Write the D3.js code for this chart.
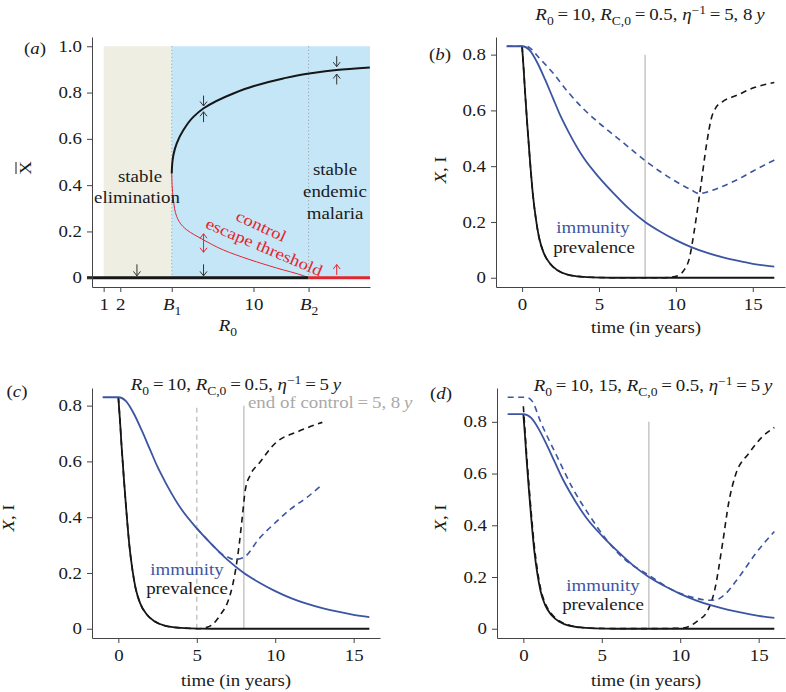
<!DOCTYPE html>
<html><head><meta charset="utf-8">
<script src="https://cdn.jsdelivr.net/npm/d3@7"></script>
<style>body{margin:0;background:#fff}svg{display:block}</style>
</head><body>
<script>
// ---------------- DATA ----------------
// Panel (a): bifurcation diagram
const B1 = 5.09, B2 = 13.31;
const r0TickVals = [1, 2, B1, 10, B2];
const r0TickLabels = ["1", "2", "B1", "10", "B2"];
const aYTicks = [0, 0.2, 0.4, 0.6, 0.8, 1.0];
const upperR0 = [5.09, 5.13, 5.19, 5.39, 5.79, 6.39, 6.99, 8.79, 10.03, 11.79, 13.35, 14.99, 16.99];
const upperX  = [0.45, 0.5, 0.53, 0.58, 0.638, 0.695, 0.731, 0.796, 0.828, 0.861, 0.882, 0.897, 0.908];
const lowerR0 = [13.31, 12.99, 11.39, 9.79, 8.19, 6.99, 5.99, 5.39, 5.19, 5.11, 5.09];
const lowerX  = [0, 0.009, 0.042, 0.078, 0.12, 0.164, 0.207, 0.264, 0.336, 0.4, 0.45];
const zeroBlackR0 = [0, B2];
const zeroRedR0 = [B2, 17];
const arrowR0   = [3, 7, 7, 7, 15, 15, 7, 15];
const arrowFrom = [0.058, 0.058, 0.787, 0.672, 0.957, 0.835, 0.11, 0.012];
const arrowTo   = [0.008, 0.008, 0.742, 0.717, 0.912, 0.88, 0.19, 0.057];
const arrowKind = ["k", "k", "k", "k", "k", "k", "r2", "r"];

// Panels (b)-(d): time courses
const timeTicks = [0, 5, 10, 15];
const xiTicks = [0, 0.2, 0.4, 0.6, 0.8];

// (b)
const bPrevT = [0, 0.1, 0.2, 0.35, 0.5, 0.7, 0.9, 1.1, 1.4, 1.8, 2.3, 2.9, 3.6, 4.5, 6, 8, 10, 12, 14, 16.4];
const bPrevX = [0.83, 0.75, 0.66, 0.54, 0.43, 0.3, 0.21, 0.145, 0.09, 0.052, 0.027, 0.012, 0.005, 0.0015, 0, 0, 0, 0, 0, 0];
const bImmT = [-1, 0, 0.5, 1, 1.5, 2, 2.5, 3, 4, 5, 6, 7, 8, 9, 10, 11, 12, 13, 14, 15, 16.4];
const bImmX = [0.83, 0.83, 0.815, 0.77, 0.71, 0.645, 0.58, 0.525, 0.43, 0.36, 0.3, 0.245, 0.2, 0.165, 0.135, 0.11, 0.09, 0.074, 0.061, 0.05, 0.04];
const bImmDashT = [-1, 0, 0.3, 0.6, 1, 2, 3, 4, 5, 6, 7, 8, 9, 10, 11, 11.5, 12, 13, 14, 15, 16.4];
const bImmDashX = [0.83, 0.83, 0.83, 0.82, 0.795, 0.735, 0.665, 0.605, 0.555, 0.51, 0.465, 0.42, 0.38, 0.345, 0.315, 0.302, 0.307, 0.327, 0.352, 0.382, 0.422];
const bPrevDashT = [0, 0.1, 0.2, 0.35, 0.5, 0.7, 0.9, 1.1, 1.4, 1.8, 2.3, 2.9, 3.6, 4.5, 6, 8, 9, 9.5, 10, 10.5, 10.9, 11.2, 11.6, 12.0, 12.3, 12.6, 13, 14, 15, 16.4];
const bPrevDashX = [0.83, 0.75, 0.66, 0.54, 0.43, 0.3, 0.21, 0.145, 0.09, 0.052, 0.027, 0.012, 0.005, 0.0015, 0, 0, 0, 0.001, 0.005, 0.025, 0.075, 0.17, 0.32, 0.48, 0.57, 0.61, 0.63, 0.655, 0.68, 0.70];
const bControlEnd = [8];

// (c) and (d) share the solid (controlled) curves
const cdPrevT = [0, 0.1, 0.2, 0.35, 0.5, 0.7, 0.9, 1.1, 1.4, 1.8, 2.3, 2.9, 3.6, 4.5, 6, 8, 10, 12, 14, 16];
const cdPrevX = [0.83, 0.75, 0.66, 0.54, 0.43, 0.3, 0.21, 0.145, 0.09, 0.052, 0.027, 0.012, 0.005, 0.0015, 0, 0, 0, 0, 0, 0];
const cdImmT = [-1, 0, 0.5, 1, 1.5, 2, 2.5, 3, 4, 5, 6, 7, 8, 9, 10, 11, 12, 13, 14, 15, 16];
const cdImmX = [0.83, 0.83, 0.815, 0.77, 0.71, 0.645, 0.58, 0.525, 0.43, 0.36, 0.3, 0.245, 0.2, 0.165, 0.135, 0.11, 0.09, 0.074, 0.061, 0.05, 0.042];

// (c)
const cImmDashT = [5, 6, 6.5, 7, 7.4, 8, 9, 10, 11, 12, 13];
const cImmDashX = [0.36, 0.3, 0.272, 0.256, 0.248, 0.256, 0.325, 0.38, 0.43, 0.47, 0.517];
const cPrevDashT = [0, 0.1, 0.2, 0.35, 0.5, 0.7, 0.9, 1.1, 1.4, 1.8, 2.3, 2.9, 3.6, 4.5, 5, 5.5, 6, 6.5, 7, 7.3, 7.5, 7.7, 7.9, 8.1, 8.4, 9, 10, 11.5, 13];
const cPrevDashX = [0.83, 0.75, 0.66, 0.54, 0.43, 0.3, 0.21, 0.145, 0.09, 0.052, 0.027, 0.012, 0.005, 0.0015, 0, 0.003, 0.015, 0.05, 0.1, 0.16, 0.22, 0.3, 0.4, 0.5, 0.55, 0.595, 0.665, 0.708, 0.74];
const cControlEnd = [5, 8];

// (d)
const dImmDashT = [-1, 0, 0.3, 0.57, 1.1, 2.15, 3.2, 4.26, 5.3, 6.37, 7.95, 9.5, 11, 11.86, 12.3, 12.7, 13.75, 14.8, 16];
const dImmDashX = [0.895, 0.895, 0.893, 0.879, 0.8, 0.666, 0.537, 0.434, 0.344, 0.273, 0.209, 0.15, 0.118, 0.11, 0.112, 0.125, 0.2, 0.29, 0.376];
const dPrevDashT = [0, 0.1, 0.2, 0.35, 0.5, 0.7, 0.9, 1.1, 1.4, 1.8, 2.3, 2.9, 3.6, 4.5, 6, 8, 10, 10.6, 11.2, 11.65, 12.2, 12.7, 13.1, 13.5, 14.4, 15.2, 16];
const dPrevDashX = [0.86, 0.77, 0.68, 0.56, 0.45, 0.32, 0.225, 0.155, 0.097, 0.057, 0.03, 0.014, 0.006, 0.002, 0.0005, 0.0005, 0.002, 0.01, 0.035, 0.06, 0.15, 0.33, 0.49, 0.59, 0.68, 0.74, 0.778];
const dControlEnd = [8];
const controlTop = 0.8;

// ---------------- DRAWING ----------------
const W = 786, H = 692;
const FONT = '"Liberation Serif","Times New Roman",serif';
const FS = 16, SX = 1.18;
const BLUE = '#3b55a2', BLACK = '#161616', RED = '#e3262d', GREY = '#c6c6c6';
const DASH = '6,4.5';

const svg = d3.select('body').append('svg').attr('width', W).attr('height', H);

function rich(g, x, y, parts, o = {}) {
  const size = o.size || FS;
  const t = g.append('text')
    .attr('transform', `translate(${x},${y}) rotate(${o.rotate || 0}) scale(${SX},1)`)
    .attr('text-anchor', o.anchor || 'middle')
    .attr('fill', o.fill || '#1a1a1a')
    .style('font-family', FONT).style('font-size', size + 'px');
  let shift = 0;
  parts.forEach(p => {
    if (typeof p === 'string') p = {t: p};
    const s = t.append('tspan').text(p.t);
    const target = p.sub ? size * 0.3 : p.sup ? -size * 0.38 : 0;
    if (target !== shift) { s.attr('dy', target - shift); shift = target; }
    if (p.sub || p.sup) s.style('font-size', (size * 0.72) + 'px');
    if (p.i) s.style('font-style', 'italic');
  });
  return t;
}

function padded(lo, hi) { const e = (hi - lo) * 0.04; return [lo - e, hi + e]; }

function axes(g, x, y, xt, yt, xfmt, yfmt) {
  const ax = g.append('g').attr('transform', `translate(0,${y.range()[0]})`)
    .call(d3.axisBottom(x).tickValues(xt).tickSize(5).tickSizeOuter(0).tickPadding(7).tickFormat(xfmt));
  const ay = g.append('g').attr('transform', `translate(${x.range()[0]},0)`)
    .call(d3.axisLeft(y).tickValues(yt).tickSize(5).tickSizeOuter(0).tickPadding(5).tickFormat(yfmt));
  [ax, ay].forEach(a => {
    a.selectAll('path,line').attr('stroke', '#444').attr('stroke-width', 1);
    a.selectAll('text').style('font-family', FONT).style('font-size', FS + 'px').attr('fill', '#1a1a1a');
  });
  ay.selectAll('text').attr('x', -10 / SX).attr('transform', `scale(${SX},1)`);
  ax.selectAll('text').attr('transform', `scale(${SX},1)`);
  return {ax, ay};
}

const yFmt = d => d === 0 ? '0' : d.toFixed(1);

// ===== Panel (a) =====
const gA = svg.append('g');
const xA = d3.scaleLinear().domain([0.3, 17]).range([92, 370]);
const yA = d3.scaleLinear().domain(padded(0, 1)).range([287, 37]);

gA.append('rect').attr('x', xA(1)).attr('y', yA(1)).attr('width', xA(B1) - xA(1)).attr('height', yA(0) - yA(1)).attr('fill', '#eeeee3');
gA.append('rect').attr('x', xA(B1)).attr('y', yA(1)).attr('width', xA(17) - xA(B1)).attr('height', yA(0) - yA(1)).attr('fill', '#c4e6f7');
[B1, B2].forEach(b => gA.append('line').attr('x1', xA(b)).attr('x2', xA(b)).attr('y1', yA(1)).attr('y2', yA(0))
  .attr('stroke', '#999').attr('stroke-width', 1).attr('stroke-dasharray', '1,2.5'));

const lowerPts = lowerR0.map((r, i) => [r, lowerX[i]]);
const upperPts = upperR0.map((r, i) => [r, upperX[i]]);
const lineA = d3.line().x(d => xA(d[0])).y(d => yA(d[1])).curve(d3.curveMonotoneY);
gA.append('path').attr('d', lineA(lowerPts)).attr('fill', 'none').attr('stroke', RED).attr('stroke-width', 1);
gA.append('path').attr('d', lineA(upperPts)).attr('fill', 'none').attr('stroke', BLACK).attr('stroke-width', 2);
gA.append('line').attr('x1', xA(zeroBlackR0[0])).attr('x2', xA(zeroBlackR0[1])).attr('y1', yA(0)).attr('y2', yA(0)).attr('stroke', BLACK).attr('stroke-width', 3);
gA.append('line').attr('x1', xA(zeroRedR0[0])).attr('x2', xA(zeroRedR0[1])).attr('y1', yA(0)).attr('y2', yA(0)).attr('stroke', RED).attr('stroke-width', 3);

arrowR0.forEach((r, i) => {
  const x = xA(r), y1 = yA(arrowFrom[i]), y2 = yA(arrowTo[i]);
  const col = arrowKind[i] === 'k' ? '#333' : RED;
  const g = gA.append('g').attr('stroke', col).attr('stroke-width', 1).attr('fill', 'none');
  g.append('line').attr('x1', x).attr('x2', x).attr('y1', y1).attr('y2', y2);
  const head = (ty, dir) => g.append('path').attr('d', `M${x - 3.5},${ty + dir * 4.5}L${x},${ty}L${x + 3.5},${ty + dir * 4.5}`);
  const dir = Math.sign(y1 - y2);
  head(y2, dir);
  if (arrowKind[i] === 'r2') head(y1, -dir);
});

rich(gA, 140, 182, ['stable']);
rich(gA, 137, 203, ['elimination']);
rich(gA, 335, 175, ['stable']);
rich(gA, 335, 197, ['endemic']);
rich(gA, 335, 219, ['malaria']);
rich(gA, 259, 231, ['control'], {fill: RED, rotate: 25});
rich(gA, 262, 252, ['escape threshold'], {fill: RED, rotate: 23});

const axA = axes(gA, xA, yA, r0TickVals, aYTicks, (d, i) => r0TickLabels[i], yFmt);
axA.ax.selectAll('text').each(function(d, i) {
  const lab = r0TickLabels[i];
  if (lab.startsWith('B')) {
    const t = d3.select(this); t.text('');
    t.append('tspan').text('B').style('font-style', 'italic');
    t.append('tspan').text(lab.slice(1)).attr('dy', 5).style('font-size', '11.5px');
  }
});
rich(gA, 35, 54, ['(', {t: 'a', i: true}, ')']);
rich(gA, 228, 331, [{t: 'R', i: true}, {t: '0', sub: true}]);
// y label: X with overbar, rotated
const yl = gA.append('g').attr('transform', 'translate(31,168) rotate(-90)');
rich(yl, 0, 0, ['X']);
yl.append('line').attr('x1', -6).attr('x2', 6).attr('y1', -15).attr('y2', -15).attr('stroke', '#1a1a1a').attr('stroke-width', 1);

// ===== time panels =====
function timePanel(g, x, y, solidPrev, solidImm, dashPrev, dashImm, ends) {
  const ln = d3.line().x(d => x(d[0])).y(d => y(d[1])).curve(d3.curveMonotoneX);
  ends.forEach(e => g.append('line').attr('x1', x(e.t)).attr('x2', x(e.t)).attr('y1', y(0)).attr('y2', y(controlTop))
    .attr('stroke', GREY).attr('stroke-width', 1.5).attr('stroke-dasharray', e.dash ? '5,4' : null));
  g.append('path').attr('d', ln(dashPrev)).attr('fill', 'none').attr('stroke', BLACK).attr('stroke-width', 1.6).attr('stroke-dasharray', DASH);
  g.append('path').attr('d', ln(dashImm)).attr('fill', 'none').attr('stroke', BLUE).attr('stroke-width', 1.6).attr('stroke-dasharray', DASH);
  g.append('path').attr('d', ln(solidPrev)).attr('fill', 'none').attr('stroke', BLACK).attr('stroke-width', 1.8);
  g.append('path').attr('d', ln(solidImm)).attr('fill', 'none').attr('stroke', BLUE).attr('stroke-width', 1.8);
  axes(g, x, y, timeTicks, xiTicks, d => d, yFmt);
}
const zip = (a, b) => a.map((v, i) => [v, b[i]]);
const xiLabel = (g, x, y) => rich(g, x, y, [{t: 'X', i: true}, ', I'], {rotate: -90});
const titleParts = (r0, extra) => [{t: 'R', i: true}, {t: '0', sub: true}, '\u2009=\u2009' + r0 + ', ', {t: 'R', i: true}, {t: 'C,0', sub: true},
  '\u2009=\u20090.5, ', {t: '\u03b7', i: true}, {t: '\u22121', sup: true}, '\u2009=\u20095' + extra + '\u2009', {t: 'y', i: true}];

// (b)
const gB = svg.append('g');
const xB = d3.scaleLinear().domain(padded(-1, 16.4)).range([496, 785]);
const yB = d3.scaleLinear().domain(padded(0, 0.83)).range([287, 37]);
timePanel(gB, xB, yB, zip(bPrevT, bPrevX), zip(bImmT, bImmX), zip(bPrevDashT, bPrevDashX), zip(bImmDashT, bImmDashX), bControlEnd.map(t => ({t})));
rich(gB, 440, 60, ['(', {t: 'b', i: true}, ')']);
xiLabel(gB, 446, 170);
rich(gB, 646, 333, ['time (in years)']);
rich(gB, 650, 20, titleParts('10', ', 8'));
rich(gB, 593, 233, ['immunity'], {fill: BLUE});
rich(gB, 594, 253, ['prevalence']);

// (c)
const gC = svg.append('g');
const xC = d3.scaleLinear().domain(padded(-1, 16)).range([92, 380]);
const yC = d3.scaleLinear().domain(padded(0, 0.83)).range([638, 388]);
timePanel(gC, xC, yC, zip(cdPrevT, cdPrevX), zip(cdImmT, cdImmX), zip(cPrevDashT, cPrevDashX), zip(cImmDashT, cImmDashX),
  cControlEnd.map((t, i) => ({t, dash: i === 0})));
rich(gC, 17, 397, ['(', {t: 'c', i: true}, ')']);
xiLabel(gC, 14, 518);
rich(gC, 236, 686, ['time (in years)']);
rich(gC, 236, 390, titleParts('10', ''));
rich(gC, 248, 408, ['end of control\u2009=\u20095, 8\u2009', {t: 'y', i: true}], {anchor: 'start', fill: '#a9a9a9'});
rich(gC, 187, 575, ['immunity'], {fill: BLUE});
rich(gC, 187, 594, ['prevalence']);

// (d)
const gD = svg.append('g');
const xD = d3.scaleLinear().domain(padded(-1, 16)).range([497, 785]);
const yD = d3.scaleLinear().domain(padded(0, 0.895)).range([638, 388]);
timePanel(gD, xD, yD, zip(cdPrevT, cdPrevX), zip(cdImmT, cdImmX), zip(dPrevDashT, dPrevDashX), zip(dImmDashT, dImmDashX), dControlEnd.map(t => ({t})));
rich(gD, 441, 399, ['(', {t: 'd', i: true}, ')']);
xiLabel(gD, 446, 518);
rich(gD, 653, 391, titleParts('10, 15', ''));
rich(gD, 646, 686, ['time (in years)']);
rich(gD, 603, 591, ['immunity'], {fill: BLUE});
rich(gD, 603, 610, ['prevalence']);
</script>
</body></html>
